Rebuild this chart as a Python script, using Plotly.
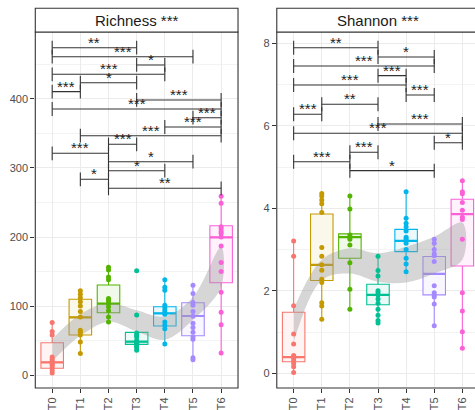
import plotly.graph_objects as go

groups = ["T0", "T1", "T2", "T3", "T4", "T5", "T6"]
colors = ["#F8766D", "#C49A00", "#53B400", "#00C094", "#00B6EB", "#A58AFF", "#FB61D7"]

# Richness: box statistics per group
rich_q1 = [9.7, 58, 90.3, 44.4, 71, 57, 133.8]
rich_med = [18.4, 83.6, 103.4, 48.3, 89.4, 85.5, 199.5]
rich_q3 = [46.8, 109.7, 130.4, 61.8, 99, 104.8, 216.4]
rich_lo = [3.4, 31.4, 75.8, 36, 45, 20.8, 32.3]
rich_hi = [76.3, 122, 156, 61.8, 138.6, 130, 259.4]
rich_points = [
    [76, 63, 58, 26, 23, 20, 18, 16, 14, 11, 7, 3],
    [122, 117, 112, 106, 100, 92, 84, 65, 62, 58, 48, 31],
    [156, 152, 142, 138, 111, 108, 104, 99, 93, 84, 77],
    [151, 87, 61, 58, 55, 50, 48, 47, 46, 45, 42, 40, 36],
    [138, 127, 123, 101, 97, 93, 90, 88, 77, 72, 67, 45],
    [130, 118, 105, 101, 92, 85, 75, 69, 62, 55, 52, 25, 22],
    [259, 249, 215, 212, 208, 205, 200, 187, 163, 150, 120, 91, 73, 32],
]
rich_band_lo = [20, 57, 77, 63, 51, 80, 128]
rich_band_hi = [52, 88, 104, 94, 85, 113, 186]
rich_pairs = [(0, 3), (0, 5), (3, 4), (0, 4), (1, 3), (0, 1), (3, 6), (0, 6), (5, 6),
              (4, 6), (1, 6), (2, 3), (0, 2), (2, 5), (2, 4), (1, 2), (2, 6)]
rich_sig_y = [474.3, 461.3, 449.3, 435.8, 423.6, 410.6, 398.6, 385.5, 372.9,
              359.4, 346.8, 334.3, 321.3, 309.1, 296.1, 283.6, 270.6]
rich_sig = ["**", "***", "*", "***", "*", "***", "***", "***", "***",
            "***", "***", "***", "***", "*", "*", "*", "**"]

# Shannon: box statistics per group
sh_q1 = [0.28, 2.25, 2.79, 1.66, 2.95, 1.90, 2.60]
sh_med = [0.39, 2.63, 3.30, 1.90, 3.21, 2.41, 3.86]
sh_q3 = [1.48, 3.86, 3.38, 2.16, 3.49, 2.83, 4.22]
sh_lo = [0.02, 1.31, 1.55, 1.22, 2.45, 1.15, 0.61]
sh_hi = [3.21, 4.36, 4.30, 2.84, 4.40, 3.25, 4.67]
sh_points = [
    [3.21, 2.84, 1.64, 0.95, 0.71, 0.43, 0.36, 0.30, 0.24, 0.16, 0.02],
    [4.36, 4.30, 4.20, 4.11, 3.90, 3.05, 2.84, 2.63, 2.50, 2.28, 2.20, 1.71, 1.63, 1.31],
    [4.30, 3.98, 3.35, 3.30, 3.25, 3.11, 2.68, 2.04, 1.55],
    [2.84, 2.49, 2.36, 2.00, 1.95, 1.90, 1.80, 1.70, 1.55, 1.41, 1.28, 1.22],
    [4.40, 3.76, 3.64, 3.55, 3.45, 3.30, 3.25, 3.15, 3.00, 2.79, 2.65, 2.46],
    [3.25, 3.15, 3.00, 2.90, 2.85, 2.71, 2.12, 1.95, 1.90, 1.85, 1.68, 1.15],
    [4.67, 4.40, 4.35, 4.14, 3.95, 3.78, 3.73, 3.25, 1.95, 1.51, 1.01, 0.61],
]
sh_band_lo = [0.75, 2.26, 2.42, 2.22, 2.20, 2.42, 2.75]
sh_band_hi = [1.55, 2.75, 3.03, 2.91, 3.07, 3.31, 3.65]
sh_pairs = [(0, 3), (3, 5), (0, 5), (3, 4), (0, 4), (4, 5), (1, 3), (0, 1), (3, 6),
            (0, 6), (5, 6), (2, 3), (0, 2), (2, 5)]
sh_sig_y = [7.893, 7.668, 7.450, 7.215, 6.989, 6.747, 6.521, 6.279, 6.044,
            5.818, 5.590, 5.358, 5.130, 4.912]
sh_sig = ["**", "*", "***", "***", "***", "***", "**", "***", "***",
          "***", "*", "***", "***", "*"]

FONT = "Liberation Sans, Arial, sans-serif"
DARK = "#333333"


def tint(hex_color, a):
    r, g, b = (int(hex_color[k:k + 2], 16) for k in (1, 3, 5))
    return "rgb(%d,%d,%d)" % tuple(round(255 * (1 - a) + c * a) for c in (r, g, b))


fig = go.Figure()
annotations = []


def add_panel(xa, ya, q1, med, q3, lo, hi, pts, blo, bhi, pairs, sig_y, sig, tip):
    xref, yref = xa, ya
    for i, g in enumerate(groups):
        fig.add_trace(go.Box(
            x=[i], q1=[q1[i]], median=[med[i]], q3=[q3[i]],
            lowerfence=[lo[i]], upperfence=[hi[i]], width=0.8, whiskerwidth=0,
            line=dict(color=colors[i], width=1.1), fillcolor=tint(colors[i], 0.08),
            boxpoints=False, xaxis=xref, yaxis=yref, hoverinfo="skip"))
        fig.add_trace(go.Scatter(
            x=[i - 0.4, i + 0.4], y=[med[i], med[i]], mode="lines",
            line=dict(color=colors[i], width=2.2), xaxis=xref, yaxis=yref, hoverinfo="skip"))
    # smoothed trend band
    xs = list(range(len(groups)))
    fig.add_trace(go.Scatter(x=xs + xs[::-1], y=blo + bhi[::-1], mode="lines",
                             line=dict(width=0, shape="spline", smoothing=1.0),
                             fill="toself", fillcolor="rgba(153,153,153,0.4)",
                             xaxis=xref, yaxis=yref, hoverinfo="skip"))
    for i, g in enumerate(groups):
        fig.add_trace(go.Scatter(
            x=[i] * len(pts[i]), y=pts[i], mode="markers",
            marker=dict(color=colors[i], size=5), xaxis=xref, yaxis=yref, hoverinfo="skip"))
    # significance brackets
    bx, by = [], []
    for (a, b), yv, s in zip(pairs, sig_y, sig):
        bx += [a, b, None, a, a, None, b, b, None]
        by += [yv, yv, None, yv - tip, yv + tip, None, yv - tip, yv + tip, None]
        annotations.append(dict(x=(a + b) / 2, y=yv, xref=xref, yref=yref, text=s,
                                showarrow=False, xanchor="center", yanchor="bottom", yshift=-5,
                                font=dict(family=FONT, size=15, color="#222222")))
    fig.add_trace(go.Scatter(x=bx, y=by, mode="lines", line=dict(color=DARK, width=1.1),
                             xaxis=xref, yaxis=yref, hoverinfo="skip"))


add_panel("x", "y", rich_q1, rich_med, rich_q3, rich_lo, rich_hi, rich_points,
          rich_band_lo, rich_band_hi, rich_pairs, rich_sig_y, rich_sig, 10)
add_panel("x2", "y2", sh_q1, sh_med, sh_q3, sh_lo, sh_hi, sh_points,
          sh_band_lo, sh_band_hi, sh_pairs, sh_sig_y, sh_sig, 0.17)

Y0, Y1 = 0.0537, 0.922
S1 = 0.9798
L = (0.0743, 0.5011)
R = (0.5827, 1.0)

xcommon = dict(tickvals=list(range(7)), ticktext=groups, tickangle=-90,
               showgrid=True, gridcolor="#EBEBEB", gridwidth=1, zeroline=False,
               ticks="outside", ticklen=4, tickcolor=DARK, tickwidth=1,
               tickfont=dict(family=FONT, size=11, color="#4D4D4D"), showline=False)
ycommon = dict(showgrid=True, gridcolor="#EBEBEB", gridwidth=1, zeroline=False,
               ticks="outside", ticklen=4, tickcolor=DARK, tickwidth=1,
               tickfont=dict(family=FONT, size=11, color="#4D4D4D"), showline=False)

fig.update_layout(
    width=475, height=410, margin=dict(l=0, r=0, t=0, b=0),
    paper_bgcolor="white", plot_bgcolor="white", showlegend=False,
    xaxis=dict(domain=list(L), range=[-0.6, 6.6], anchor="y", **xcommon),
    yaxis=dict(domain=[Y0, Y1], range=[-18.8, 497.1], anchor="x",
               tickvals=[0, 100, 200, 300, 400],
               minor=dict(dtick=50, tick0=0, showgrid=True, gridcolor="#F3F3F3", gridwidth=0.6),
               **ycommon),
    xaxis2=dict(domain=list(R), range=[-0.6, 6.45], anchor="y2", **xcommon),
    yaxis2=dict(domain=[Y0, Y1], range=[-0.356, 8.274], anchor="x2",
                tickvals=[0, 2, 4, 6, 8],
                minor=dict(dtick=1, tick0=0, showgrid=True, gridcolor="#F3F3F3", gridwidth=0.6),
                **ycommon),
)

shapes = [
    # panel borders
    dict(type="rect", xref="paper", yref="paper", x0=L[0], x1=L[1], y0=Y0, y1=Y1,
         line=dict(color=DARK, width=1.1), layer="above"),
    dict(type="path", xref="paper", yref="paper",
         path="M 1.01,%f L %f,%f L %f,%f L 1.01,%f" % (Y1, R[0], Y1, R[0], Y0, Y0),
         line=dict(color=DARK, width=1.1), layer="above"),
    # facet strips
    dict(type="rect", xref="paper", yref="paper", x0=L[0], x1=L[1], y0=Y1, y1=S1,
         fillcolor="white", line=dict(color=DARK, width=1.1), layer="above"),
    dict(type="path", xref="paper", yref="paper",
         path="M 1.01,%f L %f,%f L %f,%f L 1.01,%f" % (Y1, R[0], Y1, R[0], S1, S1),
         fillcolor="white", line=dict(color=DARK, width=1.1), layer="above"),
]

annotations.append(dict(x=(L[0] + L[1]) / 2, y=(Y1 + S1) / 2, xref="paper", yref="paper",
                        text="Richness ***", showarrow=False, xanchor="center", yanchor="middle",
                        font=dict(family=FONT, size=15, color="#1A1A1A")))
annotations.append(dict(x=R[0] + (L[1] - L[0]) / 2, y=(Y1 + S1) / 2, xref="paper", yref="paper",
                        text="Shannon ***", showarrow=False, xanchor="center", yanchor="middle",
                        font=dict(family=FONT, size=15, color="#1A1A1A")))

fig.update_layout(shapes=shapes, annotations=annotations)
fig.write_html("out.html")
